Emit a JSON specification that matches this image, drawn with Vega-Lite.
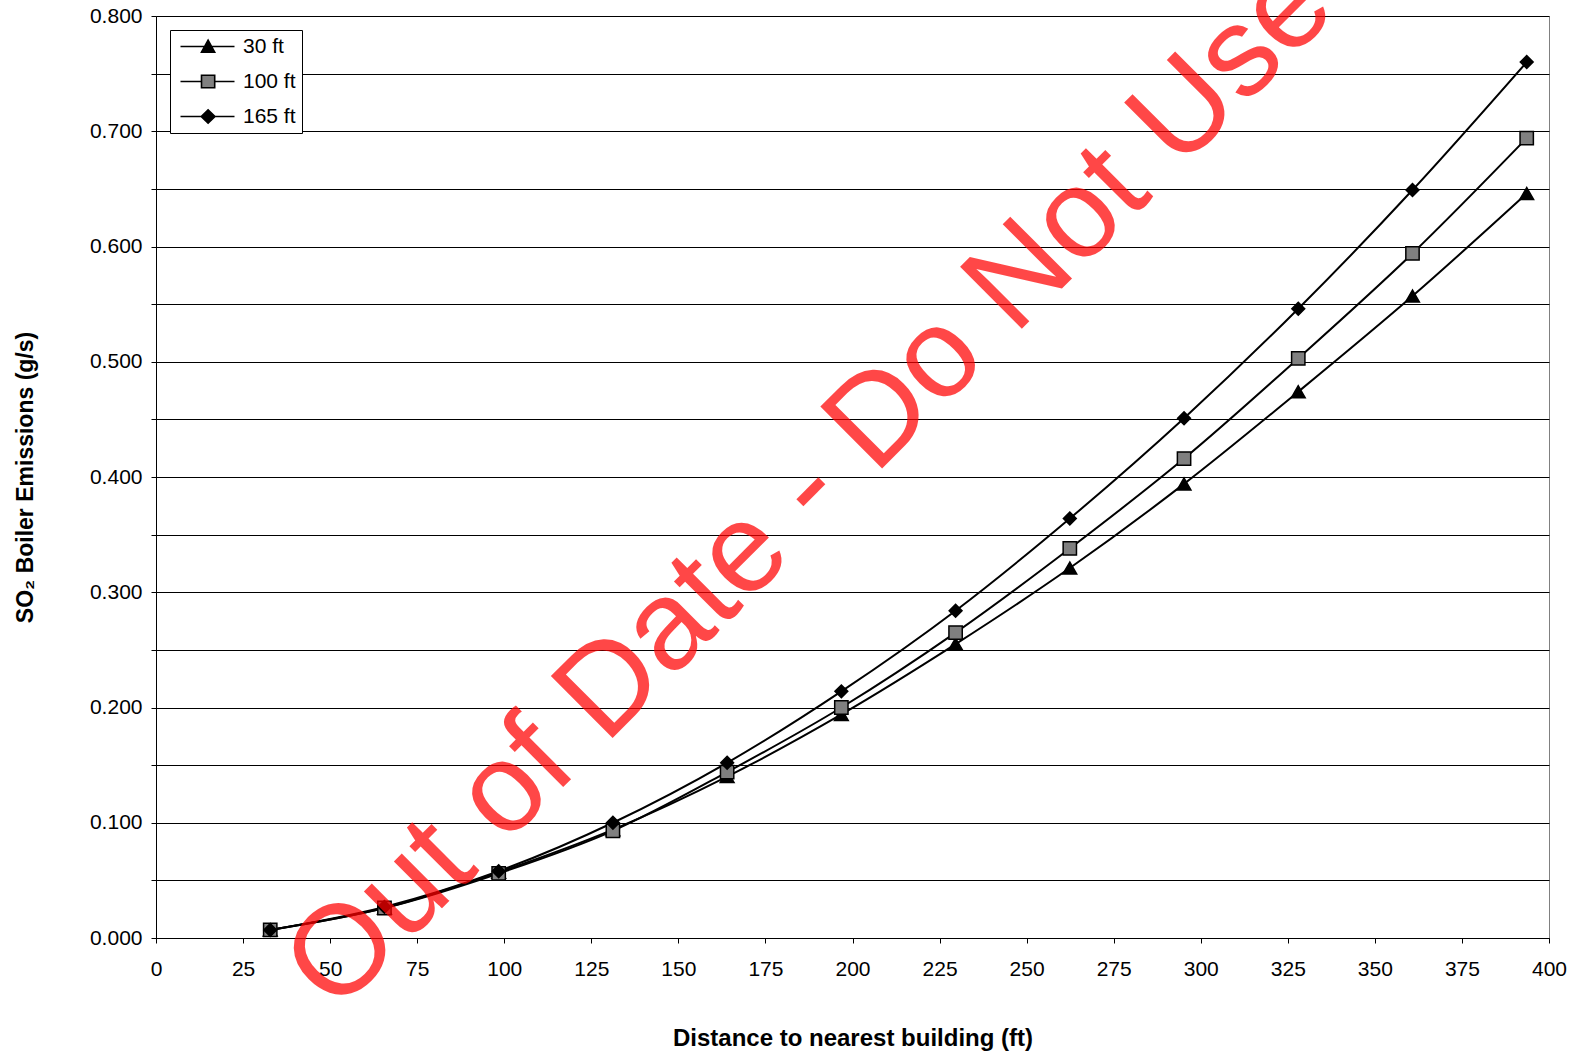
{
  "$schema": "https://vega.github.io/schema/vega-lite/v6.json",
  "autosize": {"type": "none"},
  "padding": {"left": 156, "top": 16, "right": 28, "bottom": 117},
  "width": 1393,
  "height": 922,
  "background": "white",
  "config": {
    "view": {"stroke": "#808080", "strokeWidth": 1},
    "font": "Liberation Sans",
    "axis": {
      "domainColor": "black", "domainWidth": 1, "tickColor": "black", "tickSize": 5, "tickWidth": 1,
      "labelFont": "Liberation Sans", "labelFontSize": 21, "labelColor": "black",
      "titleFont": "Liberation Sans", "titleFontWeight": "bold", "titleColor": "black"
    }
  },
  "datasets": {
    "emissions": [
      {"distance": 32.8, "emission": 0.007, "series": "30 ft"},
      {"distance": 65.6, "emission": 0.026, "series": "30 ft"},
      {"distance": 98.4, "emission": 0.057, "series": "30 ft"},
      {"distance": 131.2, "emission": 0.094, "series": "30 ft"},
      {"distance": 164.0, "emission": 0.140, "series": "30 ft"},
      {"distance": 196.8, "emission": 0.194, "series": "30 ft"},
      {"distance": 229.6, "emission": 0.255, "series": "30 ft"},
      {"distance": 262.4, "emission": 0.321, "series": "30 ft"},
      {"distance": 295.2, "emission": 0.394, "series": "30 ft"},
      {"distance": 328.0, "emission": 0.474, "series": "30 ft"},
      {"distance": 360.8, "emission": 0.557, "series": "30 ft"},
      {"distance": 393.6, "emission": 0.646, "series": "30 ft"},
      {"distance": 32.8, "emission": 0.007, "series": "100 ft"},
      {"distance": 65.6, "emission": 0.026, "series": "100 ft"},
      {"distance": 98.4, "emission": 0.056, "series": "100 ft"},
      {"distance": 131.2, "emission": 0.093, "series": "100 ft"},
      {"distance": 164.0, "emission": 0.144, "series": "100 ft"},
      {"distance": 196.8, "emission": 0.200, "series": "100 ft"},
      {"distance": 229.6, "emission": 0.265, "series": "100 ft"},
      {"distance": 262.4, "emission": 0.338, "series": "100 ft"},
      {"distance": 295.2, "emission": 0.416, "series": "100 ft"},
      {"distance": 328.0, "emission": 0.503, "series": "100 ft"},
      {"distance": 360.8, "emission": 0.594, "series": "100 ft"},
      {"distance": 393.6, "emission": 0.694, "series": "100 ft"},
      {"distance": 32.8, "emission": 0.007, "series": "165 ft"},
      {"distance": 65.6, "emission": 0.027, "series": "165 ft"},
      {"distance": 98.4, "emission": 0.058, "series": "165 ft"},
      {"distance": 131.2, "emission": 0.100, "series": "165 ft"},
      {"distance": 164.0, "emission": 0.152, "series": "165 ft"},
      {"distance": 196.8, "emission": 0.214, "series": "165 ft"},
      {"distance": 229.6, "emission": 0.284, "series": "165 ft"},
      {"distance": 262.4, "emission": 0.364, "series": "165 ft"},
      {"distance": 295.2, "emission": 0.451, "series": "165 ft"},
      {"distance": 328.0, "emission": 0.546, "series": "165 ft"},
      {"distance": 360.8, "emission": 0.649, "series": "165 ft"},
      {"distance": 393.6, "emission": 0.760, "series": "165 ft"}
    ],
    "watermark": [{"note": "Out of Date - Do Not Use"}]
  },
  "layer": [
    {
      "data": {"name": "emissions"},
      "encoding": {
        "x": {
          "field": "distance", "type": "quantitative",
          "scale": {"domain": [0, 400], "nice": false, "zero": true},
          "axis": {
            "title": "Distance to nearest building (ft)", "titleFontSize": 24, "titlePadding": 47,
            "values": [0, 25, 50, 75, 100, 125, 150, 175, 200, 225, 250, 275, 300, 325, 350, 375, 400],
            "grid": false, "labelPadding": 15, "labelFlush": false, "labelOverlap": false
          }
        },
        "y": {
          "field": "emission", "type": "quantitative",
          "scale": {"domain": [0, 0.8], "nice": false},
          "axis": {
            "title": "SO₂ Boiler Emissions (g/s)", "titleFontSize": 23, "titlePadding": 52,
            "values": [0, 0.05, 0.1, 0.15, 0.2, 0.25, 0.3, 0.35, 0.4, 0.45, 0.5, 0.55, 0.6, 0.65, 0.7, 0.75, 0.8],
            "labelExpr": "abs(datum.value*10 - round(datum.value*10)) < 0.001 ? format(datum.value, '.3f') : ''",
            "grid": true, "gridColor": "black", "gridWidth": 1, "gridOpacity": 1,
            "labelPadding": 9, "labelFlush": false, "labelOverlap": false
          }
        }
      },
      "layer": [
        {
          "mark": {"type": "line", "interpolate": "monotone", "color": "black", "strokeWidth": 2},
          "encoding": {"detail": {"field": "series", "type": "nominal"}}
        },
        {
          "mark": {"type": "point", "filled": true, "stroke": "black", "strokeWidth": 1.5, "opacity": 1},
          "encoding": {
            "shape": {"field": "series", "type": "nominal",
              "scale": {"domain": ["30 ft", "100 ft", "165 ft"], "range": ["triangle-up", "square", "diamond"]},
              "legend": null},
            "fill": {"field": "series", "type": "nominal",
              "scale": {"domain": ["30 ft", "100 ft", "165 ft"], "range": ["black", "#808080", "black"]},
              "legend": null},
            "size": {"field": "series", "type": "nominal",
              "scale": {"domain": ["30 ft", "100 ft", "165 ft"], "range": [190, 165, 240]},
              "legend": null}
          }
        },
        {
          "mark": {"type": "point", "filled": true, "opacity": 0, "stroke": "black", "strokeWidth": 1.6},
          "encoding": {
            "shape": {"field": "series", "type": "nominal",
              "scale": {"domain": ["30 ft", "100 ft", "165 ft"],
                "range": [
                  "M-1,0H8M2.5,0.95L3.6,-1.05L4.7,0.95Z",
                  "M-1,0H2.5M4.7,0H8M2.5,-1.05H4.7V1.05H2.5Z",
                  "M-1,0H8M2.45,0L3.6,-1.1L4.75,0L3.6,1.1Z"
                ]},
              "legend": {
                "title": null, "orient": "none", "legendX": 14, "legendY": 14,
                "symbolSize": 144, "symbolStrokeColor": "black", "symbolStrokeWidth": 1.6, "symbolOpacity": 1,
                "labelFont": "Liberation Sans", "labelFontSize": 21, "labelColor": "black", "labelOffset": 46,
                "rowPadding": 13, "padding": 6, "strokeColor": "black", "fillColor": "white", "cornerRadius": 0,
                "encode": {"symbols": {"update": {"stroke": {"value": "black"}, "strokeWidth": {"value": 1.6}, "opacity": {"value": 1}}}}
              }},
            "fill": {"field": "series", "type": "nominal",
              "scale": {"domain": ["30 ft", "100 ft", "165 ft"], "range": ["black", "#808080", "black"]},
              "legend": {
                "title": null, "orient": "none", "legendX": 14, "legendY": 14,
                "symbolSize": 144, "symbolStrokeColor": "black", "symbolStrokeWidth": 1.6, "symbolOpacity": 1,
                "labelFont": "Liberation Sans", "labelFontSize": 21, "labelColor": "black", "labelOffset": 46,
                "rowPadding": 13, "padding": 6, "strokeColor": "black", "fillColor": "white", "cornerRadius": 0,
                "encode": {"symbols": {"update": {"stroke": {"value": "black"}, "strokeWidth": {"value": 1.6}, "opacity": {"value": 1}}}}
              }}
          }
        }
      ],
      "resolve": {"scale": {"shape": "independent", "fill": "independent", "size": "independent"}, "legend": {"shape": "independent", "fill": "independent"}}
    },
    {
      "data": {"name": "watermark"},
      "mark": {"type": "text", "font": "Liberation Sans", "fontSize": 127, "angle": 315, "align": "center", "baseline": "middle", "fill": "#ff0000", "fillOpacity": 0.72, "clip": false},
      "encoding": {
        "text": {"field": "note", "type": "nominal"},
        "x": {"datum": 187.9, "type": "quantitative"},
        "y": {"datum": 0.392, "type": "quantitative"}
      }
    }
  ]
}
